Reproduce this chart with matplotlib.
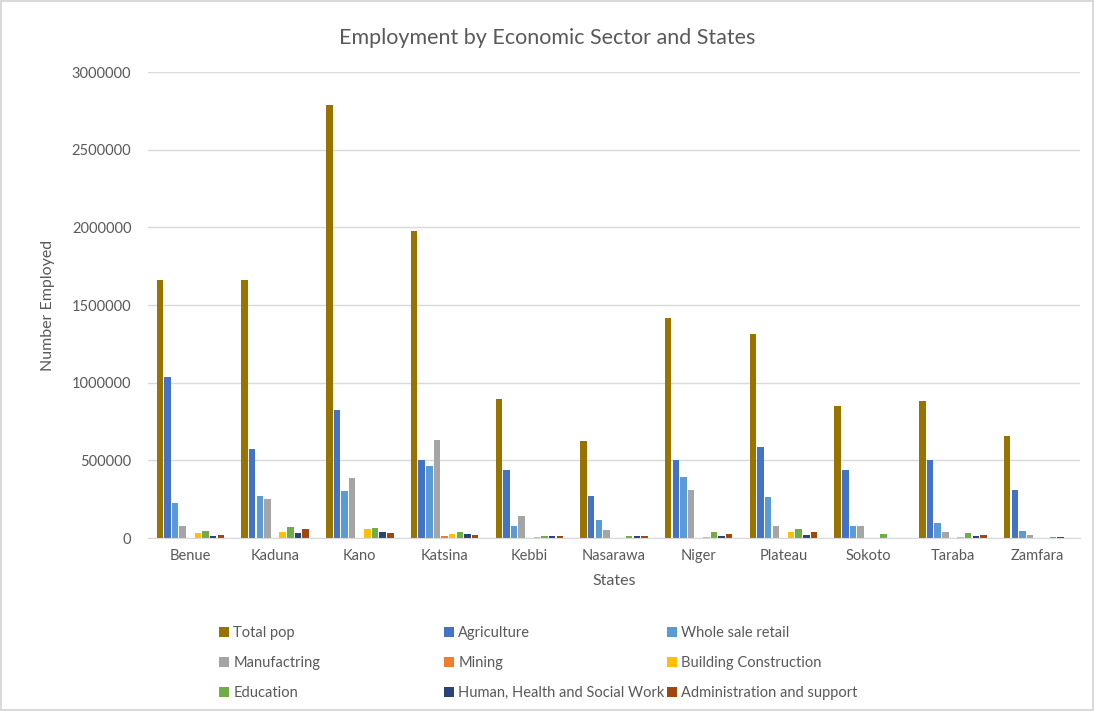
import matplotlib.pyplot as plt
import numpy as np

plt.rcParams['font.family'] = ['Lato', 'DejaVu Sans']

states = ["Benue", "Kaduna", "Kano", "Katsina", "Kebbi", "Nasarawa",
          "Niger", "Plateau", "Sokoto", "Taraba", "Zamfara"]

total_pop = [1660000, 1660000, 2788000, 1977000, 895000, 625000, 1416000, 1313000, 848000, 880000, 659000]
agriculture = [1038000, 571000, 824000, 500000, 438000, 272000, 500000, 586000, 438000, 504000, 311000]
retail = [227000, 272000, 300000, 462000, 79000, 114000, 393000, 262000, 79000, 97000, 45000]
manufacturing = [79000, 251000, 384000, 631000, 142000, 52000, 307000, 75000, 79000, 41000, 21000]
mining = [0, 0, 0, 10000, 0, 0, 0, 0, 0, 0, 0]
construction = [30000, 37000, 58000, 26000, 8000, 0, 8000, 37000, 0, 8000, 0]
education = [45000, 71000, 62000, 37000, 13000, 16000, 41000, 58000, 26000, 30000, 8000]
health = [15000, 30000, 37000, 26000, 10000, 15000, 10000, 21000, 0, 10000, 8000]
admin = [19000, 58000, 30000, 21000, 10000, 10000, 24000, 37000, 0, 21000, 0]

series = [
    ("Total pop", total_pop, "#997300"),
    ("Agriculture", agriculture, "#4472C4"),
    ("Whole sale retail", retail, "#5B9BD5"),
    ("Manufactring", manufacturing, "#A5A5A5"),
    ("Mining", mining, "#ED7D31"),
    ("Building Construction", construction, "#FFC000"),
    ("Education", education, "#70AD47"),
    ("Human, Health and Social Work", health, "#264478"),
    ("Administration and support", admin, "#9E480E"),
]

fig = plt.figure(figsize=(10.94, 7.11), dpi=100)
fig.patch.set_edgecolor("#d9d9d9")
fig.patch.set_linewidth(1.5)
ax = fig.add_axes([148 / 1094, 1 - 538 / 711, (1080 - 148) / 1094, (538 - 72) / 711])

x = np.arange(len(states))
w = 0.09
handles = []
for i, (name, vals, col) in enumerate(series):
    b = ax.bar(x + (i - 4) * w, vals, width=w * 0.85, color=col, label=name)
    handles.append(b)

ax.set_xlim(-0.5, len(states) - 0.5)
ax.set_ylim(0, 3000000)
ax.set_yticks(np.arange(0, 3000001, 500000))
ax.set_yticklabels([str(v) for v in range(0, 3000001, 500000)])
ax.set_xticks(x)
ax.set_xticklabels(states)
ax.grid(axis="y", color="#d9d9d9", linewidth=1)
ax.set_axisbelow(True)
for s in ["top", "right", "left"]:
    ax.spines[s].set_visible(False)
ax.spines["bottom"].set_color("#d9d9d9")
ax.tick_params(axis="both", length=0, labelsize=10.5, colors="#595959", pad=8)
ax.tick_params(axis="y", pad=12)
ax.set_xlabel("States", fontsize=11.5, color="#595959", labelpad=8)
ax.set_ylabel("Number Employed", fontsize=11.5, color="#595959", labelpad=12)
fig.text(0.5, 1 - 38 / 711, "Employment by Economic Sector and States",
         ha="center", va="center", fontsize=15.5, color="#595959")

col_x = [213 / 1094, 438 / 1094, 661 / 1094]
for c in range(3):
    hs = handles[c::3]
    fig.legend(hs, [h.get_label() for h in hs], loc="upper left",
               bbox_to_anchor=(col_x[c], 1 - 620 / 711), frameon=False,
               fontsize=10.5, labelcolor="#595959", handlelength=0.7,
               handleheight=0.7, handletextpad=0.3, labelspacing=1.1,
               borderaxespad=0)

fig.savefig("out.png", dpi=100)
